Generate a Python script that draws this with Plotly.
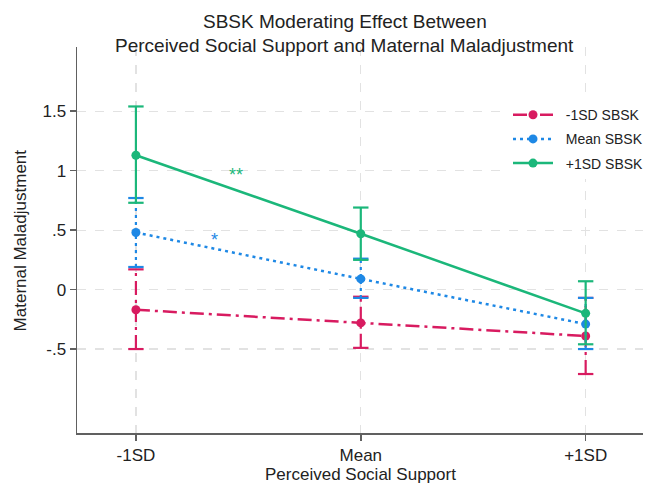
import plotly.graph_objects as go

# ---- data ----
x_labels = ["-1SD", "Mean", "+1SD"]
x_pos = [-1, 0, 1]

series_names = ["-1SD SBSK", "Mean SBSK", "+1SD SBSK"]

low_mean = [-0.17, -0.28, -0.39]
low_ci_lo = [-0.50, -0.49, -0.71]
low_ci_hi = [0.17, -0.06, -0.07]

mid_mean = [0.48, 0.09, -0.29]
mid_ci_lo = [0.19, -0.07, -0.50]
mid_ci_hi = [0.77, 0.26, -0.07]

high_mean = [1.13, 0.47, -0.20]
high_ci_lo = [0.73, 0.25, -0.46]
high_ci_hi = [1.54, 0.69, 0.07]

y_tickvals = [-0.5, 0, 0.5, 1, 1.5]
y_ticktext = ["-.5", "0", ".5", "1", "1.5"]

sig_labels = ["**", "*"]
sig_x = [-0.555, -0.652]
sig_y = [0.965, 0.42]

title_lines = ["SBSK Moderating Effect Between",
               "Perceived Social Support and Maternal Maladjustment"]
x_title = "Perceived Social Support"
y_title = "Maternal Maladjustment"

# ---- style ----
colors = ["#D81B60", "#1E88E5", "#1BB77A"]
dashes = ["14px,5px,3px,5px", "3px,4px", "solid"]
FONT = "Liberation Sans, Arial, sans-serif"
TXT = "#222222"
PAD = "\u00a0\u00a0"

fig = go.Figure()

all_series = [
    (low_mean, low_ci_lo, low_ci_hi),
    (mid_mean, mid_ci_lo, mid_ci_hi),
    (high_mean, high_ci_lo, high_ci_hi),
]

for i, (name, (m, lo, hi), c, d) in enumerate(zip(series_names, all_series, colors, dashes)):
    grp = f"g{i}"
    cx, cy = [], []
    for xi, l, h in zip(x_pos, lo, hi):
        cx += [xi, xi, None]
        cy += [l, h, None]
    fig.add_trace(go.Scatter(
        x=cx, y=cy, mode="lines", line=dict(color=c, width=2.2, dash=d),
        showlegend=False, hoverinfo="skip", legendgroup=grp))
    fig.add_trace(go.Scatter(
        x=x_pos + x_pos, y=lo + hi, mode="markers",
        marker=dict(symbol="line-ew-open", size=11, color=c,
                    line=dict(color=c, width=2.2)),
        showlegend=False, hoverinfo="skip", legendgroup=grp))
    fig.add_trace(go.Scatter(
        x=x_pos, y=m, mode="lines+markers", name=PAD + name, legendgroup=grp,
        line=dict(color=c, width=2.5, dash=d),
        marker=dict(color=c, size=9, symbol="circle")))

for t, xx, yy, c in zip(sig_labels, sig_x, sig_y, [colors[2], colors[1]]):
    fig.add_annotation(x=xx, y=yy, text=t, showarrow=False,
                       font=dict(color=c, size=18, family=FONT))

# Titles as annotations (paper coords)
fig.add_annotation(xref="paper", yref="paper", x=0.473, y=1.066, text=title_lines[0],
                   showarrow=False, xanchor="center", yanchor="middle",
                   font=dict(size=19, family=FONT, color=TXT))
fig.add_annotation(xref="paper", yref="paper", x=0.473, y=1.005, text=title_lines[1],
                   showarrow=False, xanchor="center", yanchor="middle",
                   font=dict(size=19, family=FONT, color=TXT))
fig.add_annotation(xref="paper", yref="paper", x=0.5, y=-0.108, text=x_title,
                   showarrow=False, xanchor="center", yanchor="middle",
                   font=dict(size=17, family=FONT, color=TXT))
fig.add_annotation(xref="paper", yref="paper", x=-0.1, y=0.5, text=y_title,
                   showarrow=False, xanchor="center", yanchor="middle", textangle=-90,
                   font=dict(size=17, family=FONT, color=TXT))

fig.update_layout(
    width=649, height=485,
    margin=dict(l=77, r=0, t=47, b=52),
    paper_bgcolor="white", plot_bgcolor="white",
    font=dict(family=FONT, color=TXT, size=17),
    legend=dict(x=0.762, y=0.865, xanchor="left", yanchor="top",
                bgcolor="white", borderwidth=0,
                font=dict(size=14, family=FONT, color=TXT),
                itemwidth=40, traceorder="grouped", tracegroupgap=3),
    showlegend=True,
)

fig.update_xaxes(
    range=[-1.262, 1.255], tickvals=x_pos, ticktext=x_labels,
    showline=True, linecolor="#606060", linewidth=1.5,
    ticks="outside", ticklen=6, tickcolor="#606060", tickwidth=1.5,
    showgrid=True, gridcolor="#E2E2E2", griddash="dash", gridwidth=1.2,
    zeroline=False, tickfont=dict(size=17),
)
fig.update_yaxes(
    range=[-1.206, 2.04], tickvals=y_tickvals, ticktext=y_ticktext,
    showline=True, linecolor="#606060", linewidth=1.5,
    ticks="outside", ticklen=6, tickcolor="#606060", tickwidth=1.5,
    showgrid=True, gridcolor="#E2E2E2", griddash="dash", gridwidth=1.2,
    zeroline=False, tickfont=dict(size=17),
)

fig.write_html("out.html",
               config={"displayModeBar": False, "staticPlot": True},
               post_script="document.body.style.margin='0';document.body.style.overflow='hidden';")
